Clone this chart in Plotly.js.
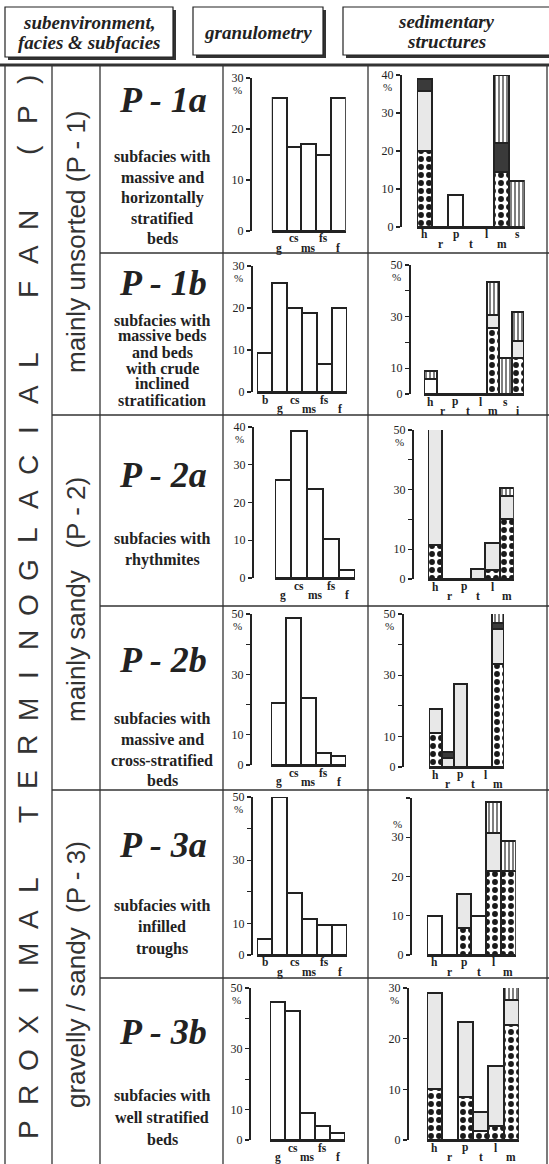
<!DOCTYPE html>
<html><head><meta charset="utf-8">
<script src="https://cdn.plot.ly/plotly-3.0.1.min.js"></script>
<style>html,body{margin:0;padding:0;background:#fff}</style>
</head><body><div id="chart" style="width:549px;height:1164px"></div>
<script>
const W = 549, H = 1164;
const granCats = ['b','g','cs','ms','fs','f'];
const sedCats = ['h','r','p','t','l','m','s','i'];

// granulometry (%) per class b, g, cs, ms, fs, f (null = no bar)
const gran_P1a = [null, 26, 16.5, 17, 15, 26];
const gran_P1b = [9.3, 26, 20, 18.7, 6.6, 20];
const gran_P2a = [null, 26, 39, 23.5, 10.2, 2];
const gran_P2b = [null, 20.5, 48.8, 22.2, 4, 3];
const gran_P3a = [5, 50, 19.5, 11.5, 9.4, 9.4];
const gran_P3b = [null, 45.3, 42.3, 9, 4.6, 2.2];

// sedimentary structures (%) stacked segments per class h, r, p, t, l, m, s, i
const sed_P1a_dots  = [20, 0, 0, 0, 0, 14.5, 0];
const sed_P1a_white = [0, 0, 8.5, 0, 0, 0, 0];
const sed_P1a_light = [15.7, 0, 0, 0, 0, 0, 0];
const sed_P1a_dark  = [3.3, 0, 0, 0, 0, 7.5, 0];
const sed_P1a_lines = [0, 0, 0, 0, 0, 18, 12];

const sed_P1b_dots  = [0, 0, 0, 0, 0, 25.6, 0, 14];
const sed_P1b_white = [6, 0, 0, 0, 0, 0, 0, 0];
const sed_P1b_light = [0, 0, 0, 0, 0, 5, 0, 6.4];
const sed_P1b_dark  = [0, 0, 0, 0, 0, 0, 0, 0];
const sed_P1b_lines = [3, 0, 0, 0, 0, 13, 14, 11.5];

const sed_P2a_dots  = [11.5, 0, 0, 0, 3, 20];
const sed_P2a_white = [0, 0, 0, 0, 0, 0];
const sed_P2a_light = [43, 0, 0, 3.5, 9, 8];
const sed_P2a_dark  = [0, 0, 0, 0, 0, 0];
const sed_P2a_lines = [0, 0, 0, 0, 0, 2.5];

const sed_P2b_dots  = [11, 0, 0, 0, 0, 33.5];
const sed_P2b_white = [0, 0, 0, 0, 0, 0];
const sed_P2b_light = [8, 3, 27, 0, 0, 11.5];
const sed_P2b_dark  = [0, 2, 0, 0, 0, 2];
const sed_P2b_lines = [0, 0, 0, 0, 0, 3.5];

const sed_P3a_dots  = [0, 0, 7, 0, 21.5, 21.5];
const sed_P3a_white = [10, 0, 0, 10, 0, 0];
const sed_P3a_light = [0, 0, 8.5, 0, 9.5, 0];
const sed_P3a_dark  = [0, 0, 0, 0, 0, 0];
const sed_P3a_lines = [0, 0, 0, 0, 8, 7.5];

const sed_P3b_dots  = [10, 0, 8.5, 1.8, 2.8, 22.6];
const sed_P3b_white = [0, 0, 0, 0, 0, 0];
const sed_P3b_light = [19, 0, 14.8, 3.8, 11.9, 5];
const sed_P3b_dark  = [0, 0, 0, 0, 0, 0];
const sed_P3b_lines = [0, 0, 0, 0, 0, 2.6];

// ---------- layout geometry (pixels) ----------
const px = p => p / W;
const py = p => 1 - p / H;
const INK = '#222';

const granPanels = [
  {data: gran_P1a, axisX: 250, left: 257, w: 14.8, y0: 231, yTop: 78, max: 30, ticks: [0,10,20,30], lab: [0,10,20,30]},
  {data: gran_P1b, axisX: 251, left: 257, w: 15, y0: 392, yTop: 266, max: 30, ticks: [0,10,20,30], lab: [0,10,20,30]},
  {data: gran_P2a, axisX: 252, left: 259, w: 16, y0: 578, yTop: 427, max: 40, ticks: [0,10,20,30,40], lab: [0,10,20,30,40]},
  {data: gran_P2b, axisX: 250, left: 256, w: 15, y0: 765, yTop: 614, max: 50, ticks: [0,10,20,30,40,50], lab: [0,10,30,50]},
  {data: gran_P3a, axisX: 251, left: 257, w: 15, y0: 955, yTop: 797, max: 50, ticks: [0,10,20,30,40,50], lab: [0,10,30,50]},
  {data: gran_P3b, axisX: 249, left: 255, w: 15, y0: 1140, yTop: 988, max: 50, ticks: [0,10,20,30,40,50], lab: [0,10,30,50]}
];
const sedPanels = [
  {n: 7, segs: [sed_P1a_dots, sed_P1a_white, sed_P1a_light, sed_P1a_dark, sed_P1a_lines], axisX: 400, left: 417, w: 15.4, y0: 227, yTop: 75, max: 40, ticks: [0,10,20,30,40], lab: [0,10,20,30,40]},
  {n: 8, segs: [sed_P1b_dots, sed_P1b_white, sed_P1b_light, sed_P1b_dark, sed_P1b_lines], axisX: 409, left: 424, w: 12.5, y0: 394, yTop: 265, max: 50, ticks: [0,10,20,30,40,50], lab: [0,10,30,50]},
  {n: 6, segs: [sed_P2a_dots, sed_P2a_white, sed_P2a_light, sed_P2a_dark, sed_P2a_lines], axisX: 412, left: 428, w: 14.3, y0: 579, yTop: 430, max: 50, ticks: [0,10,20,30,40,50], lab: [0,10,30,50]},
  {n: 6, segs: [sed_P2b_dots, sed_P2b_white, sed_P2b_light, sed_P2b_dark, sed_P2b_lines], axisX: 402, left: 429, w: 12.5, y0: 767, yTop: 614, max: 50, ticks: [0,10,20,30,40,50], lab: [0,10,30,50]},
  {n: 6, segs: [sed_P3a_dots, sed_P3a_white, sed_P3a_light, sed_P3a_dark, sed_P3a_lines], axisX: 410, left: 427, w: 14.8, y0: 955, yTop: 798, max: 40, ticks: [0,10,20,30,40], lab: [0,10,20,30], pctAbove: 30},
  {n: 6, segs: [sed_P3b_dots, sed_P3b_white, sed_P3b_light, sed_P3b_dark, sed_P3b_lines], axisX: 407, left: 427, w: 15.3, y0: 1140, yTop: 988, max: 30, ticks: [0,10,20,30], lab: [0,10,20,30]}
];

const segStyles = [
  {name: 'dots', color: 'white', pattern: {shape: '.', fgcolor: '#1a1a1a', bgcolor: 'white', size: 8, solidity: 0.42, fillmode: 'replace'}},
  {name: 'white', color: 'white'},
  {name: 'light', color: '#e8e8e8'},
  {name: 'dark', color: '#3a3a3a'},
  {name: 'lines', color: 'white', pattern: {shape: '|', fgcolor: '#1a1a1a', bgcolor: 'white', size: 4, solidity: 0.28, fillmode: 'replace'}}
];

const traces = [];
const layout = {
  width: W, height: H, margin: {l: 0, r: 0, t: 0, b: 0},
  paper_bgcolor: 'white', plot_bgcolor: 'rgba(0,0,0,0)',
  showlegend: false, barmode: 'stack', bargap: 0, bargroupgap: 0,
  font: {family: 'Liberation Serif', color: INK},
  shapes: [], annotations: []
};

function addAxes(k, cats, first, last, p) {
  const xs = k === 1 ? '' : String(k);
  const dl = p.left + first * p.w, dr = p.left + (last + 1) * p.w;
  layout['xaxis' + xs] = {
    domain: [px(dl), px(dr)], anchor: 'y' + xs, type: 'category',
    categoryorder: 'array', categoryarray: cats, range: [first - 0.5, last + 0.5],
    showline: true, linewidth: 2, linecolor: INK, ticks: '', showgrid: false, zeroline: false,
    showticklabels: false, fixedrange: true
  };
  layout['yaxis' + xs] = {
    domain: [py(p.y0), py(p.yTop)], anchor: 'free', position: px(p.axisX), range: [0, p.max],
    showline: true, linewidth: 1.5, linecolor: INK, ticks: 'outside', ticklen: 4, tickwidth: 1.3, tickcolor: INK,
    tickmode: 'array', tickvals: p.ticks, ticktext: p.ticks.map(v => p.lab.includes(v) ? String(v) : ''),
    tickfont: {family: 'Liberation Serif', size: 12, color: INK}, showgrid: false, zeroline: false, fixedrange: true
  };
  // staggered category labels (alternately high / low), tied to the category positions
  for (let i = first; i <= last; i++) {
    layout.annotations.push({
      xref: 'x' + xs, yref: 'paper', x: i, y: py(p.y0 + (i % 2 === 0 ? 7.5 : 17)),
      xanchor: 'center', yanchor: 'middle', showarrow: false, text: '<b>' + cats[i] + '</b>',
      font: {family: 'Liberation Serif', size: 11.5, color: INK}
    });
  }
  const pctVal = p.pctAbove !== undefined ? p.pctAbove : p.max;
  layout.annotations.push({
    xref: 'paper', yref: 'y' + xs, x: px(p.axisX - 6), y: pctVal, xanchor: 'right', yanchor: 'middle',
    yshift: p.pctAbove !== undefined ? 13 : -12, text: '%', showarrow: false,
    font: {family: 'Liberation Serif', size: 11, color: INK}
  });
}

let k = 1;
granPanels.forEach(p => {
  const idx = granCats.map((c, i) => i).filter(i => p.data[i] !== null);
  const first = idx[0], last = idx[idx.length - 1];
  const xs = k === 1 ? '' : String(k);
  addAxes(k, granCats, first, last, p);
  traces.push({
    type: 'bar', x: granCats.slice(first, last + 1), y: p.data.slice(first, last + 1),
    xaxis: 'x' + xs, yaxis: 'y' + xs, width: 1, cliponaxis: false,
    marker: {color: 'white', line: {color: INK, width: 2}}, hoverinfo: 'skip'
  });
  k++;
});

sedPanels.forEach(p => {
  const cats = sedCats.slice(0, p.n);
  const xs = String(k);
  addAxes(k, cats, 0, p.n - 1, p);
  p.segs.forEach((arr, si) => {
    const st = segStyles[si];
    const marker = {color: st.color, line: {color: INK, width: 2}};
    if (st.pattern) marker.pattern = st.pattern;
    traces.push({
      type: 'bar', x: cats, y: arr, name: st.name,
      xaxis: 'x' + xs, yaxis: 'y' + xs, width: 1, cliponaxis: false,
      marker: marker, hoverinfo: 'skip'
    });
  });
  k++;
});

// ---------- table frame ----------
function line(x0, y0, x1, y1, w) {
  layout.shapes.push({type: 'line', xref: 'paper', yref: 'paper', x0: px(x0), y0: py(y0), x1: px(x1), y1: py(y1), line: {color: '#333', width: w || 1.2}, layer: 'below'});
}
function box(x0, y0, x1, y1) {
  layout.shapes.push({type: 'rect', xref: 'paper', yref: 'paper', x0: px(x0 + 3), y0: py(y1 + 3), x1: px(x1 + 3), y1: py(y0 + 3), fillcolor: '#333', line: {width: 0}, layer: 'below'});
  layout.shapes.push({type: 'rect', xref: 'paper', yref: 'paper', x0: px(x0), y0: py(y1), x1: px(x1), y1: py(y0), fillcolor: 'white', line: {color: '#222', width: 1.2}, layer: 'below'});
}
box(5, 7, 173, 57);
box(193, 7, 323, 55);
box(343, 7, 552, 55);
line(0, 65, 549, 65, 3);
[5, 52, 100, 223, 368, 547].forEach(x => line(x, 66, x, 1164, 1.3));
line(100, 253, 549, 253, 1.3);
line(52, 415, 549, 415, 1.3);
line(100, 606, 549, 606, 1.3);
line(52, 790, 549, 790, 1.3);
line(100, 978, 549, 978, 1.3);

function ann(x, y, text, size, opts) {
  layout.annotations.push(Object.assign({
    xref: 'paper', yref: 'paper', x: px(x), y: py(y), text: text, showarrow: false,
    xanchor: 'center', yanchor: 'middle', font: {family: 'Liberation Serif', size: size, color: INK}
  }, opts || {}));
}

// header texts
ann(89, 22, '<b><i>subenvironment,</i></b>', 19);
ann(89, 43, '<b><i>facies &amp; subfacies</i></b>', 19);
ann(258, 32, '<b><i>granulometry</i></b>', 19);
ann(446, 21, '<b><i>sedimentary</i></b>', 19);
ann(446, 42, '<b><i>structures</i></b>', 19);

// subfacies titles and descriptions
const subTitles = ['P - 1a', 'P - 1b', 'P - 2a', 'P - 2b', 'P - 3a', 'P - 3b'];
const subTitleY = [100, 283, 475, 660, 845, 1032];
const subDesc = [
  ['subfacies with', 'massive and', 'horizontally', 'stratified', 'beds'],
  ['subfacies with', 'massive beds', 'and beds', 'with crude', 'inclined', 'stratification'],
  ['subfacies with', 'rhythmites'],
  ['subfacies with', 'massive and', 'cross-stratified', 'beds'],
  ['subfacies with', 'infilled', 'troughs'],
  ['subfacies with', 'well stratified', 'beds']
];
const descY0 = [157, 320, 538, 718, 905, 1095];
const descStep = [20.5, 16, 22, 21, 22, 22];
subTitles.forEach((t, i) => {
  ann(163, subTitleY[i], '<b><i>' + t + '</i></b>', 36);
  subDesc[i].forEach((s, j) => ann(162, descY0[i] + j * descStep[i], '<b>' + s + '</b>', 16));
});

// vertical group labels
const sans = s => ({family: 'Liberation Sans', size: s, color: '#333'});
ann(76, 242, 'mainly unsorted (P - 1)', 26, {textangle: -90, font: sans(26)});
ann(76, 600, 'mainly sandy\u00a0\u00a0\u00a0(P - 2)', 26, {textangle: -90, font: sans(26)});
ann(76, 975, 'gravelly / sandy\u00a0\u00a0(P - 3)', 26, {textangle: -90, font: sans(26)});

// big vertical title, letter-spaced
const bigWords = ['PROXIMAL', 'TERMINOGLACIAL', 'FAN', '(P)'];
let slots = [];
bigWords.forEach((wd, wi) => { wd.split('').forEach(ch => slots.push(ch)); if (wi < bigWords.length - 1) slots.push(null); });
const yStart = 1130, yEnd = 80, pitch = (yStart - yEnd) / (slots.length - 1);
slots.forEach((ch, i) => {
  if (ch) ann(28, yStart - i * pitch, ch, 28, {textangle: -90, font: sans(28)});
});

Plotly.newPlot('chart', traces, layout, {staticPlot: true, displayModeBar: false});
</script></body></html>
